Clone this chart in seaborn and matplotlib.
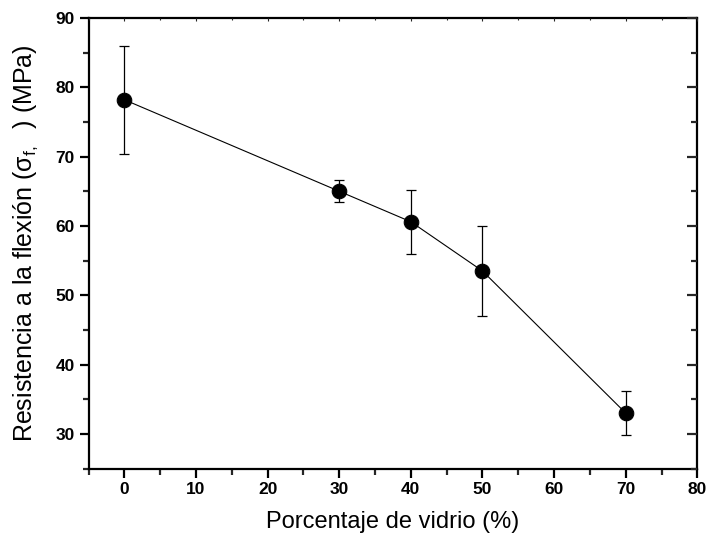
import pandas as pd
import seaborn as sns
import matplotlib.pyplot as plt
from matplotlib.ticker import MultipleLocator

# Data
vidrio = [0, 30, 40, 50, 70]
resistencia = [78.2, 65.0, 60.6, 53.5, 33.0]
error = [7.8, 1.6, 4.6, 6.5, 3.2]

df = pd.DataFrame({'vidrio': vidrio, 'resistencia': resistencia, 'error': error})

sns.set_style("ticks")
plt.rcParams['font.family'] = ['Liberation Sans', 'DejaVu Sans']
plt.rcParams['mathtext.fontset'] = 'custom'
plt.rcParams['mathtext.rm'] = 'Liberation Sans'
plt.rcParams['mathtext.it'] = 'Liberation Sans'

fig, ax = plt.subplots(figsize=(7.08, 5.43), dpi=100)
fig.subplots_adjust(left=0.125, right=0.985, top=0.967, bottom=0.137)

ax.errorbar(df['vidrio'], df['resistencia'], yerr=df['error'], fmt='none',
            ecolor='black', elinewidth=0.9, capsize=3.5, capthick=0.9, zorder=2)
sns.lineplot(data=df, x='vidrio', y='resistencia', ax=ax, color='black',
             linewidth=0.8, marker='o', markersize=10.5, markeredgecolor='black',
             markerfacecolor='black', zorder=3)

ax.set_xlim(-5, 80)
ax.set_ylim(25, 90)
ax.xaxis.set_major_locator(MultipleLocator(10))
ax.xaxis.set_minor_locator(MultipleLocator(5))
ax.yaxis.set_major_locator(MultipleLocator(10))
ax.yaxis.set_minor_locator(MultipleLocator(5))

for side in ['left', 'right', 'top', 'bottom']:
    ax.spines[side].set_linewidth(1.6)
    ax.spines[side].set_color('black')

ax.tick_params(axis='both', which='major', direction='out', length=6.5, width=1.6,
               labelsize=12.5, colors='black', top=False, right=False)
ax.tick_params(axis='both', which='minor', direction='out', length=4, width=1.6,
               top=False, right=False)
for lab in ax.get_xticklabels() + ax.get_yticklabels():
    lab.set_fontweight('bold')

# inward ticks on the right and top, Origin style
axt = ax.twinx()
axt.set_ylim(ax.get_ylim())
axt.yaxis.set_major_locator(MultipleLocator(10))
axt.yaxis.set_minor_locator(MultipleLocator(5))
axt.tick_params(axis='y', which='major', direction='in', length=7, width=1.6, labelright=False)
axt.tick_params(axis='y', which='minor', direction='in', length=4, width=1.6)
axty = ax.twiny()
axty.set_xlim(ax.get_xlim())
axty.xaxis.set_major_locator(MultipleLocator(10))
axty.xaxis.set_minor_locator(MultipleLocator(5))
axty.tick_params(axis='x', which='major', direction='in', length=2, width=0.8, labeltop=False)
axty.tick_params(axis='x', which='minor', direction='in', length=1.5, width=0.8)
for a in (axt, axty):
    for side in a.spines:
        a.spines[side].set_visible(False)

ax.set_xlabel('Porcentaje de vidrio (%)', fontsize=17, labelpad=10, color='black')
ax.set_ylabel(r'Resistencia a la flexión (σ$_{\mathrm{f,}}$  ) (MPa)', fontsize=18,
              labelpad=11, color='black')

plt.savefig('out.png', dpi=100)
